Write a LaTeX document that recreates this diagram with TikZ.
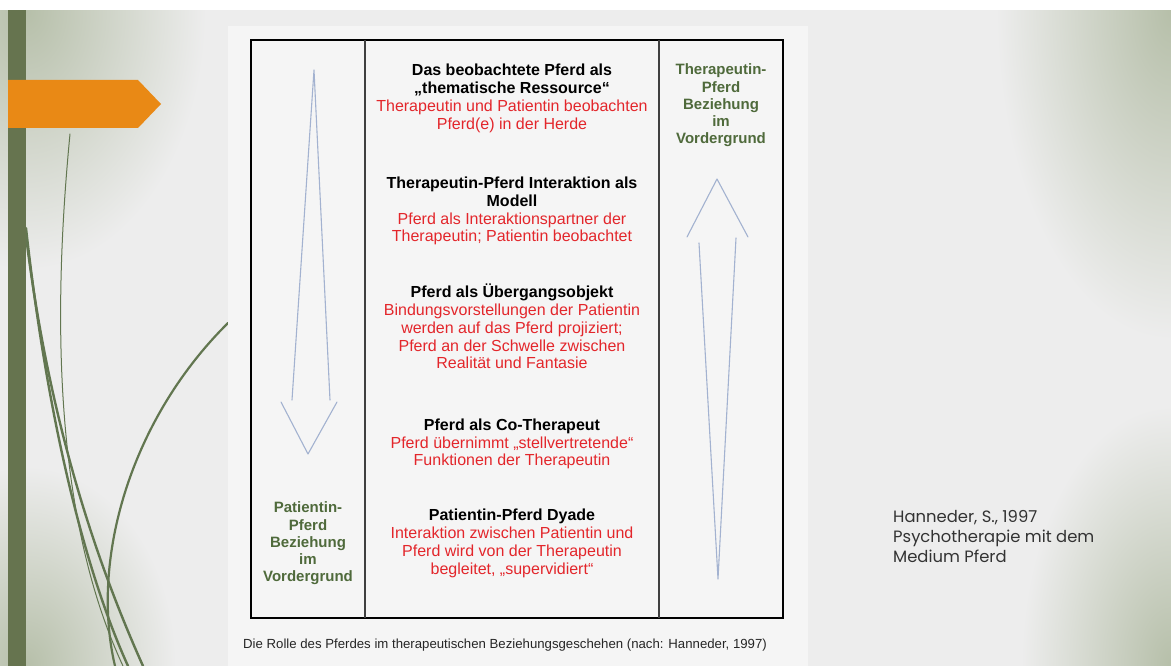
\documentclass[tikz,border=0pt]{standalone}
\usepackage{fontspec}
\setmainfont{Liberation Sans}
\newfontfamily\citefont{Poppins}
\definecolor{slidebg}{HTML}{EDEDED}
\definecolor{panelbg}{HTML}{F5F5F5}
\definecolor{sage}{HTML}{B6BFA9}
\definecolor{barcol}{HTML}{66744F}
\definecolor{vinecol}{HTML}{627650}
\definecolor{orangecol}{HTML}{E98915}
\definecolor{redtxt}{HTML}{E3262B}
\definecolor{greentxt}{HTML}{4F6A3B}
\definecolor{arrowcol}{HTML}{A3B2D0}
\definecolor{citecol}{HTML}{333333}
\tikzset{
  blocktext/.style={align=center, inner sep=0pt, font=\fontsize{16}{17.8}\selectfont},
  sidetext/.style={align=center, inner sep=0pt, text=greentxt, font=\fontsize{15}{17.2}\selectfont\bfseries},
  arrowline/.style={draw=arrowcol, line width=1.1pt, line cap=round, line join=round},
  vine/.style={draw=vinecol, line cap=round},
}
\newcommand{\rt}[1]{{\color{redtxt}#1}}
\begin{document}
\begin{tikzpicture}[x=1pt,y=-1pt]
\useasboundingbox (0,0) rectangle (1171,666);
% slide background with soft corners
\begin{scope}
\clip (0,10) rectangle (1171,666);
\fill[slidebg] (0,10) rectangle (1171,666);
\shade[inner color=sage, outer color=slidebg] (26,10) ellipse (180 and 260);
\shade[inner color=sage, outer color=slidebg] (26,666) ellipse (150 and 200);
\shade[inner color=sage, outer color=slidebg] (1171,10) ellipse (175 and 330);
\shade[inner color=sage, outer color=slidebg] (1171,666) ellipse (150 and 260);
\end{scope}
\fill[white] (0,0) rectangle (1171,10);
% green bar
\fill[barcol] (8,10) rectangle (26,666);
% vines
\begin{scope}
\clip (26,10) rectangle (240,666);
\draw[vine, line width=1pt] (70,134) .. controls (52,320) and (55,520) .. (123,666);
\draw[vine, line width=2.4pt] (26,228) .. controls (45,400) and (80,560) .. (128,666);
\draw[vine, line width=2.4pt] (26,236) .. controls (50,430) and (100,570) .. (143,666);
\draw[vine, line width=2.2pt] (228,323) .. controls (130,420) and (90,560) .. (115,666);
\end{scope}
% orange arrow
\fill[orangecol] (8,80) -- (138,80) -- (161,104) -- (138,128) -- (8,128) -- cycle;
% figure panel
\fill[panelbg] (228,26) rectangle (808,666);
% table
\draw[black, line width=1.2pt] (251,40) rectangle (783,618);
\draw[black!75, line width=1.6pt] (365,40) -- (365,618);
\draw[black!75, line width=1.6pt] (659,40) -- (659,618);
% centre blocks
\node[blocktext] (b1) at (512,98.5) {\textbf{Das beobachtete Pferd als}\\\textbf{„thematische Ressource“}\\\rt{Therapeutin und Patientin beobachten}\\\rt{Pferd(e) in der Herde}};
\node[blocktext] (b2) at (512,211) {\textbf{Therapeutin-Pferd Interaktion als}\\\textbf{Modell}\\\rt{Pferd als Interaktionspartner der}\\\rt{Therapeutin; Patientin beobachtet}};
\node[blocktext] (b3) at (512,326.5) {\textbf{Pferd als Übergangsobjekt}\\\rt{Bindungsvorstellungen der Patientin}\\\rt{werden auf das Pferd projiziert;}\\\rt{Pferd an der Schwelle zwischen}\\\rt{Realität und Fantasie}};
\node[blocktext] (b4) at (512,444) {\textbf{Pferd als Co-Therapeut}\\\rt{Pferd übernimmt „stellvertretende“}\\\rt{Funktionen der Therapeutin}};
\node[blocktext] (b5) at (512,543.5) {\textbf{Patientin-Pferd Dyade}\\\rt{Interaktion zwischen Patientin und}\\\rt{Pferd wird von der Therapeutin}\\\rt{begleitet, „supervidiert“}};
% side labels
\node[sidetext] (ll) at (308,543.5) {Patientin-\\Pferd\\Beziehung\\im\\Vordergrund};
\node[sidetext] (rl) at (721,105.5) {Therapeutin-\\Pferd\\Beziehung\\im\\Vordergrund};
% left (down) arrow
\coordinate (la) at (314,70);
\coordinate (lsl) at (292,400);
\coordinate (lsr) at (330,400);
\coordinate (lhl) at (281,402);
\coordinate (lht) at (308,454);
\coordinate (lhr) at (337,402);
\draw[arrowline] (lsl) -- (la) -- (lsr);
\draw[arrowline] (lhl) -- (lht) -- (lhr);
% right (up) arrow
\coordinate (ra) at (717,179);
\coordinate (rhl) at (687,237);
\coordinate (rhr) at (748,237);
\coordinate (rsl) at (699,243);
\coordinate (rsr) at (736,238);
\coordinate (rb) at (718,579);
\draw[arrowline] (rhl) -- (ra) -- (rhr);
\draw[arrowline] (rsl) -- (rb) -- (rsr);
% caption
\node[inner sep=0pt, anchor=west, font=\fontsize{13.2}{15}\selectfont, text=black!85] (cap) at (243,645) {Die Rolle des Pferdes im therapeutischen Beziehungsgeschehen (nach: Hanneder, 1997)};
% citation
\node[inner sep=0pt, anchor=north west, align=left, text=citecol, font=\citefont\fontsize{16.4}{20}\selectfont] (cite) at (893,510) {Hanneder, S., 1997\\Psychotherapie mit dem\\Medium Pferd};
\end{tikzpicture}
\end{document}
